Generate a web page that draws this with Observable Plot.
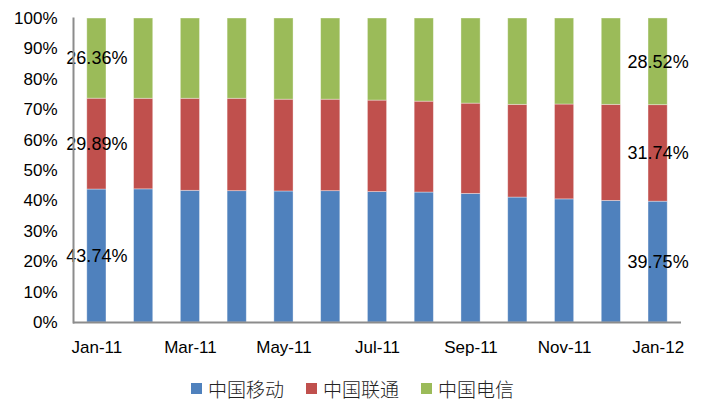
<!DOCTYPE html>
<html>
<head>
<meta charset="utf-8">
<script src="https://cdn.jsdelivr.net/npm/d3@7"></script>
<script src="https://cdn.jsdelivr.net/npm/@observablehq/plot@0.6"></script>
<style>
  html, body { margin: 0; padding: 0; background: #fff; }
  #chart svg { display: block; }
  #legend {
    display: flex; justify-content: center; align-items: center;
    height: 46px; width: 705px;
    font-family: "Noto Sans CJK SC", sans-serif; font-size: 19px; font-weight: 300; color: #222;
  }
  .item { display: flex; align-items: center; margin: 0 11px; }
  .sw { width: 11px; height: 11px; margin-right: 6px; }
</style>
</head>
<body>
<div id="chart"></div>
<div id="legend"></div>
<script>
const months = ["Jan-11","Feb-11","Mar-11","Apr-11","May-11","Jun-11","Jul-11","Aug-11","Sep-11","Oct-11","Nov-11","Dec-11","Jan-12"];
const tickLabels = ["Jan-11","Mar-11","May-11","Jul-11","Sep-11","Nov-11","Jan-12"];
const seriesNames = ["中国移动","中国联通","中国电信"];
const colors = ["#4F81BD","#C0504D","#9BBB59"];
const mobile  = [43.74, 43.80, 43.32, 43.20, 43.10, 43.20, 42.90, 42.75, 42.30, 41.10, 40.50, 40.00, 39.75];
const unicom  = [29.89, 29.80, 30.28, 30.40, 30.20, 30.10, 30.10, 29.90, 29.70, 30.50, 31.20, 31.60, 31.74];
const telecom = [26.36, 26.40, 26.40, 26.40, 26.70, 26.70, 27.00, 27.35, 28.00, 28.40, 28.30, 28.40, 28.52];
const labeledMonths = ["Jan-11","Jan-12"];

const seriesValues = [mobile, unicom, telecom];
const data = months.flatMap((m, i) => seriesNames.map((s, k) => ({month: m, series: s, value: seriesValues[k][i]})));

const chart = Plot.plot({
  width: 705,
  height: 365,
  marginLeft: 73,
  marginRight: 24,
  marginTop: 18,
  marginBottom: 43,
  style: {fontFamily: "'Liberation Sans', Arial, sans-serif", fontSize: "17px", color: "#000", background: "#fff"},
  x: {domain: months, paddingInner: 0.59, paddingOuter: 0.295, round: false, label: null},
  y: {domain: [0, 100], label: null},
  color: {domain: seriesNames, range: colors},
  marks: [
    Plot.barY(data, {x: "month", y: "value", fill: "series", z: "series", stroke: "#fff", strokeOpacity: 0.45, strokeWidth: 0.8}),
    Plot.text(data.filter(d => labeledMonths.includes(d.month)),
      Plot.stackY({x: "month", y: "value", z: "series", text: d => d.value.toFixed(2) + "%", fontSize: 18, fill: "#000"})),
    Plot.axisY({ticks: d3.range(0, 101, 10), tickFormat: d => d + "%", tickSize: 0, tickPadding: 16, fontSize: 17, fill: "#000"}),
    Plot.axisX({ticks: tickLabels, tickSize: 0, tickPadding: 18, fontSize: 17, fill: "#000"}),
    Plot.frame({anchor: "left", stroke: "#8c8c8c", strokeWidth: 2}),
    Plot.ruleY([0], {stroke: "#8c8c8c", strokeWidth: 2})
  ]
});
document.getElementById("chart").appendChild(chart);

const legend = document.getElementById("legend");
seriesNames.forEach((s, k) => {
  const item = document.createElement("div");
  item.className = "item";
  const sw = document.createElement("div");
  sw.className = "sw";
  sw.style.background = colors[k];
  const label = document.createElement("span");
  label.textContent = s;
  item.appendChild(sw);
  item.appendChild(label);
  legend.appendChild(item);
});
</script>
</body>
</html>
